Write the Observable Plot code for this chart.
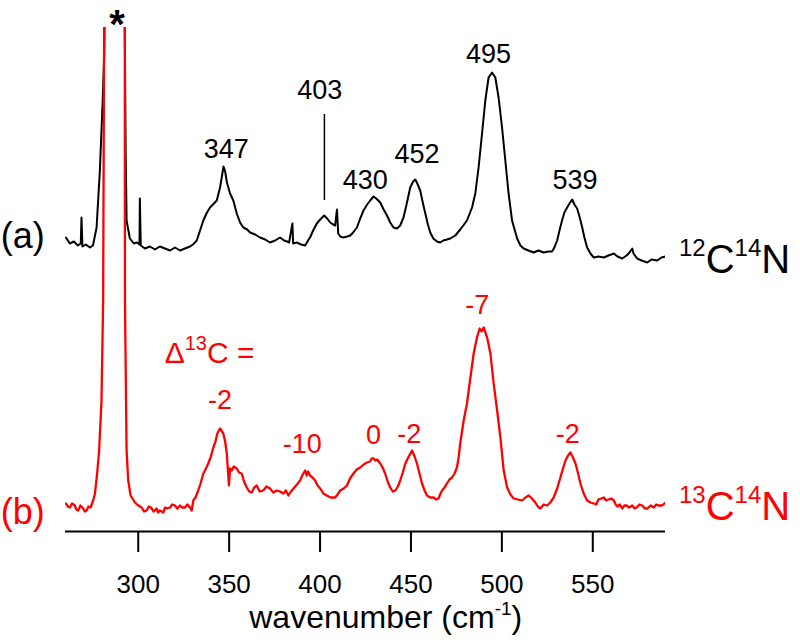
<!DOCTYPE html>
<html><head><meta charset="utf-8">
<script src="https://cdn.jsdelivr.net/npm/d3@7"></script>
<script src="https://cdn.jsdelivr.net/npm/@observablehq/plot@0.6"></script>
<style>html,body{margin:0;padding:0;background:#fff} svg{display:block}</style>
</head><body><div id="chart"></div>
<script>
// (a) 12C14N spectrum: [wavenumber, intensity]
const spectrumA = [[260.2,0.8],[262.4,0.2],[264.6,0.4],[266.8,0.0],[268.4,0.2],[268.8,2.8],[269.3,-0.1],[271.2,0.1],[273.4,-0.2],[275.1,0.0],[277.1,1.8],[278.9,7.5],[280.4,14.2],[281.3,19.2],[282.2,33.8],[292.1,33.8],[293.1,9.2],[293.6,2.5],[295.4,0.7],[297.6,0.2],[299.3,0.3],[300.7,0.1],[300.9,4.7],[301.4,0.0],[303.7,-0.3],[306.4,-0.1],[309.2,-0.4],[311.9,-0.1],[314.7,-0.3],[317.5,-0.5],[320.2,-0.2],[323.0,-0.5],[325.7,-0.3],[328.5,-0.1],[330.1,0.1],[332.2,0.5],[334.0,1.5],[335.8,2.5],[337.8,3.3],[339.5,3.8],[341.1,4.1],[343.2,4.5],[345.0,5.8],[346.1,7.0],[346.9,7.9],[347.7,7.5],[348.8,6.3],[350.5,5.2],[352.3,4.5],[354.2,3.2],[356.0,2.3],[357.8,1.8],[359.9,1.6],[361.5,1.3],[364.3,1.1],[367.0,0.8],[369.8,0.6],[372.5,0.3],[375.3,0.5],[378.0,0.8],[380.2,0.5],[381.9,0.4],[383.0,0.3],[384.8,2.2],[385.2,0.2],[387.2,0.3],[389.6,0.1],[391.8,0.0],[393.4,0.5],[394.5,0.8],[396.2,1.5],[398.2,2.2],[400.1,2.6],[402.3,3.0],[403.9,2.7],[405.6,2.3],[407.2,2.1],[408.3,2.0],[409.3,3.6],[410.0,1.2],[411.1,0.9],[412.9,0.8],[414.9,0.9],[416.6,1.0],[418.2,1.3],[420.3,1.8],[422.1,2.7],[423.9,3.5],[425.9,4.1],[427.6,4.5],[429.4,4.9],[430.9,4.7],[433.1,4.3],[434.7,3.7],[436.8,3.0],[438.6,2.3],[440.4,1.8],[442.3,1.7],[444.1,2.0],[445.9,2.8],[447.7,4.2],[449.6,5.8],[451.2,6.4],[452.4,6.6],[453.5,6.2],[455.1,5.5],[456.5,4.3],[457.9,3.2],[459.3,2.1],[460.6,1.3],[462.3,0.7],[464.3,0.4],[466.1,0.3],[467.8,0.5],[469.8,0.6],[471.6,0.7],[474.4,1.0],[477.1,1.6],[478.8,2.0],[480.8,2.5],[482.1,3.1],[483.6,3.8],[485.4,5.2],[487.2,7.8],[489.1,11.2],[490.9,14.5],[492.7,16.8],[494.6,17.3],[496.4,16.8],[498.2,14.8],[500.1,11.8],[501.9,8.5],[503.7,5.2],[505.6,2.5],[508.4,0.7],[510.2,0.0],[512.0,-0.3],[514.6,-0.5],[517.5,-0.7],[520.1,-0.5],[523.0,-0.7],[525.6,-0.6],[527.6,-0.6],[528.9,-0.2],[530.4,0.5],[531.7,1.5],[533.1,2.5],[534.4,3.3],[535.9,3.8],[537.2,4.2],[538.7,4.6],[539.9,4.1],[541.4,3.7],[542.7,2.9],[544.2,1.8],[545.4,0.8],[546.9,-0.2],[548.7,-0.8],[550.6,-1.2],[553.1,-1.1],[556.1,-1.2],[558.6,-1.0],[561.6,-0.8],[563.6,-1.1],[566.2,-1.3],[568.6,-1.0],[570.2,-0.7],[571.7,-0.3],[572.4,-0.8],[574.4,-1.3],[576.8,-1.5],[580.0,-1.7],[582.3,-1.4],[585.5,-1.5],[587.8,-1.2],[590.0,-1.1]];

// (b) 13C14N spectrum: [wavenumber, intensity]
const spectrumB = [[260.2,0.4],[261.3,0.1],[262.4,0.0],[263.6,0.4],[265.1,0.2],[266.0,-0.2],[267.0,-0.3],[268.2,0.2],[269.7,-0.1],[270.6,-0.4],[271.6,-0.3],[272.6,0.1],[273.8,0.0],[275.2,0.7],[276.2,1.4],[277.4,3.4],[278.5,5.7],[279.8,10.7],[280.7,20.7],[281.5,60],[292.6,60],[292.7,20.7],[293.6,5.7],[294.5,2.7],[295.8,1.2],[298.2,0.5],[300.0,0.2],[301.9,0.0],[303.2,-0.4],[304.6,-0.3],[305.8,0.1],[307.0,0.0],[308.5,-0.4],[310.1,-0.1],[311.0,-0.5],[311.9,-0.3],[313.8,-0.5],[314.8,0.0],[315.8,-0.1],[317.5,0.0],[318.7,0.3],[320.2,0.2],[321.5,-0.1],[323.0,0.2],[324.2,0.0],[325.7,0.0],[327.0,0.3],[328.5,0.0],[329.4,-0.3],[330.3,0.7],[331.5,1.0],[333.0,1.7],[334.3,2.4],[335.8,3.4],[337.0,3.8],[338.5,4.4],[339.8,5.0],[341.3,6.0],[342.5,6.6],[343.5,7.4],[345.0,7.9],[346.8,7.4],[347.8,6.6],[348.7,5.4],[349.9,2.2],[350.5,3.9],[351.4,3.7],[352.5,4.1],[354.2,3.9],[355.5,3.5],[356.9,3.4],[358.2,2.6],[359.7,2.0],[361.0,1.6],[362.4,1.5],[363.8,2.0],[365.2,2.2],[366.8,1.6],[368.8,1.7],[370.5,2.1],[372.5,1.9],[374.3,1.5],[376.2,1.7],[378.0,1.6],[379.8,1.4],[381.2,1.7],[382.6,1.2],[384.0,1.6],[385.4,1.9],[387.3,2.3],[389.0,2.7],[390.5,3.3],[391.8,3.7],[392.6,3.2],[393.4,3.6],[394.5,3.2],[395.8,3.0],[397.3,2.7],[398.6,2.2],[400.1,1.9],[401.8,1.4],[403.7,1.2],[405.9,1.0],[408.3,1.0],[409.6,1.3],[411.1,1.7],[413.0,1.9],[414.8,2.2],[416.5,2.9],[418.4,3.4],[420.2,3.8],[422.1,4.0],[424.0,4.3],[425.8,4.5],[427.5,4.6],[428.4,4.9],[429.4,4.9],[430.3,4.7],[431.4,4.8],[433.1,4.4],[434.4,4.0],[435.8,3.4],[437.2,2.6],[438.6,2.0],[440.0,1.6],[441.4,1.7],[442.8,2.1],[444.1,2.7],[445.5,3.5],[446.9,4.4],[448.8,5.1],[450.6,5.7],[452.0,5.1],[453.3,4.4],[454.7,3.4],[456.1,2.4],[457.5,1.7],[458.8,1.2],[460.6,1.0],[462.4,1.0],[463.8,0.8],[465.2,0.9],[466.0,1.3],[467.1,1.7],[468.5,2.0],[469.8,2.4],[471.2,2.8],[472.6,3.0],[474.0,3.4],[475.3,4.0],[476.2,5.0],[477.1,6.4],[479.0,8.7],[480.8,10.4],[482.7,13.0],[484.5,15.4],[486.3,17.0],[487.8,17.9],[488.8,17.6],[490.0,18.0],[491.9,17.0],[493.7,15.4],[495.5,12.4],[497.4,9.7],[499.2,7.0],[501.0,3.7],[502.9,2.0],[504.7,1.3],[506.5,0.9],[508.8,0.8],[511.1,0.7],[513.0,1.0],[514.8,1.2],[516.6,0.9],[518.4,0.5],[519.8,0.1],[521.2,-0.1],[523.0,0.3],[524.9,0.2],[526.7,0.5],[528.5,1.0],[530.4,1.9],[532.2,3.0],[533.6,3.9],[535.0,4.7],[536.4,5.2],[537.7,5.5],[539.1,5.0],[540.5,4.4],[541.8,3.5],[543.2,2.4],[545.0,1.4],[546.9,0.7],[548.7,0.5],[550.6,0.4],[551.9,0.3],[553.1,0.8],[554.6,0.9],[556.1,1.0],[557.3,0.7],[558.6,0.8],[560.1,0.9],[561.6,0.7],[562.6,0.3],[563.6,0.1],[564.9,0.3],[566.2,-0.1],[567.4,0.2],[568.6,0.2],[570.1,0.0],[571.7,0.2],[573.0,-0.1],[574.1,0.0],[575.7,0.3],[577.2,0.2],[578.6,-0.1],[580.1,-0.1],[581.8,0.2],[583.6,0.0],[584.9,0.3],[586.2,0.2],[588.1,0.2],[590.0,0.5]];

// vertical offsets of the stacked traces
const offsetA = 28.6;
const offsetB = 2.4;

// x ticks
const xTicks = [300, 350, 400, 450, 500, 550];

// peak labels, trace (a)
const peakTextA = ["347", "403", "430", "452", "495", "539"];
const peakLabelXA = [348.4, 399.8, 424.9, 453.3, 492.7, 540.2];
const peakLabelYA = [37.4, 43.3, 34.3, 36.9, 46.9, 34.3];

// 403 marker line
const markerX = [402.4];
const markerY1 = [41.7];
const markerY2 = [33.1];

// isotope shift labels, trace (b)
const shiftText = ["-2", "-10", "0", "-2", "-7", "-2"];
const shiftLabelX = [345.0, 390.2, 429.4, 449.1, 486.5, 536.3];
const shiftLabelY = [12.3, 7.9, 8.8, 8.9, 21.8, 8.9];

const FONT = "'Liberation Sans', Arial, Helvetica, sans-serif";
const RED = "#ff0000";

const dataA = spectrumA.map(([w, i]) => ({w, v: offsetA + i}));
const dataB = spectrumB.map(([w, i]) => ({w, v: offsetB + i}));
const labA = peakTextA.map((t, k) => ({t, x: peakLabelXA[k], y: peakLabelYA[k]}));
const labB = shiftText.map((t, k) => ({t, x: shiftLabelX[k], y: shiftLabelY[k]}));
const marker = markerX.map((x, k) => ({x, y1: markerY1[k], y2: markerY2[k]}));

const plot = Plot.plot({
  width: 800, height: 642,
  marginLeft: 65, marginRight: 135, marginTop: 27, marginBottom: 111,
  x: {domain: [260, 590]},
  y: {domain: [0, 50.4], axis: null},
  style: {fontFamily: FONT, background: "#fff", overflow: "visible"},
  marks: [
    Plot.line(dataA, {x: "w", y: "v", stroke: "#000", strokeWidth: 2, clip: true}),
    Plot.line(dataB, {x: "w", y: "v", stroke: RED, strokeWidth: 2.3, clip: true}),
    Plot.ruleY([0], {stroke: "#000", strokeWidth: 2}),
    Plot.axisX({ticks: xTicks, tickSize: 21, tickPadding: 22, fontSize: 26, strokeWidth: 2, label: null}),
    Plot.ruleX(marker, {x: "x", y1: "y1", y2: "y2", stroke: "#000", strokeWidth: 1.5}),
    Plot.text(labA, {x: "x", y: "y", text: "t", fontSize: 27, fill: "#000", lineAnchor: "bottom", textAnchor: "middle"}),
    Plot.text(labB, {x: "x", y: "y", text: "t", fontSize: 27, fill: RED, lineAnchor: "bottom", textAnchor: "middle"}),
    Plot.text(["*"], {x: 288.3, y: 49.4, text: d => d, fontSize: 40, fontWeight: "bold", fill: "#000", lineAnchor: "bottom", textAnchor: "middle"}),
    Plot.text(["(a)"], {x: 224.4, y: 28.4, text: d => d, fontSize: 36, fill: "#000", lineAnchor: "bottom", textAnchor: "start"}),
    Plot.text(["(b)"], {x: 224.4, y: 0.8, text: d => d, fontSize: 36, fill: RED, lineAnchor: "bottom", textAnchor: "start"})
  ]
});

const sx = plot.scale("x"), sy = plot.scale("y");
const svg = d3.select(plot);

function richText(x, y, parts, {size, supSize, rise, fill, anchor = "start"}) {
  const t = svg.append("text").attr("x", x).attr("y", y)
    .attr("font-family", FONT).attr("font-size", size)
    .attr("fill", fill).attr("text-anchor", anchor);
  let shift = 0;
  for (const [s, sup] of parts) {
    const target = sup ? -rise : 0;
    const ts = t.append("tspan").text(s).attr("dy", target - shift);
    if (sup) ts.attr("font-size", supSize);
    shift = target;
  }
}

richText(sx.apply(314.8), sy.apply(16.8), [["Δ"], ["13", true], ["C ="]], {size: 30, supSize: 20, rise: 13, fill: RED});
richText(sx.apply(597.7), sy.apply(25.8), [["12", true], ["C"], ["14", true], ["N"]], {size: 40, supSize: 24, rise: 17, fill: "#000"});
richText(sx.apply(597.7), sy.apply(1.1), [["13", true], ["C"], ["14", true], ["N"]], {size: 40, supSize: 24, rise: 17, fill: RED});
richText(sx.apply(436.4), sy.apply(-9.7), [["wavenumber (cm"], ["-1", true], [")"]], {size: 32, supSize: 19, rise: 13, fill: "#000", anchor: "middle"});

document.getElementById("chart").appendChild(plot);
</script>
</body></html>
